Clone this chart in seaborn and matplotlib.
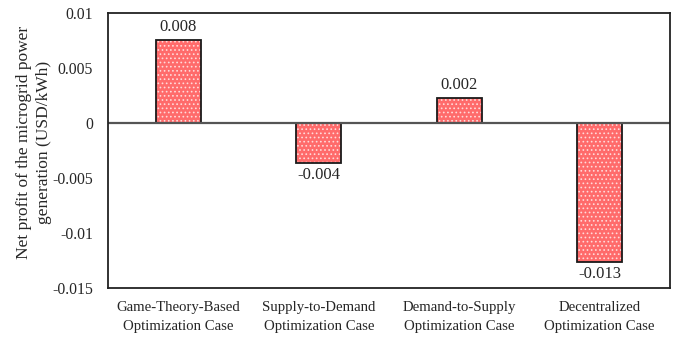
import matplotlib
matplotlib.use("Agg")
import matplotlib.pyplot as plt
import seaborn as sns
import pandas as pd

cases = [
    "Game-Theory-Based\nOptimization Case",
    "Supply-to-Demand\nOptimization Case",
    "Demand-to-Supply\nOptimization Case",
    "Decentralized\nOptimization Case",
]
net_profit = [0.0076, -0.0036, 0.0023, -0.0126]
y_ticks = [0.01, 0.005, 0, -0.005, -0.01, -0.015]
y_tick_labels = ["0.01", "0.005", "0", "-0.005", "-0.01", "-0.015"]

sns.set_style("white")
plt.rcParams["font.family"] = ["Liberation Serif", "DejaVu Serif"]
plt.rcParams["hatch.linewidth"] = 0.7

df = pd.DataFrame({"case": cases, "profit": net_profit})

fig = plt.figure(figsize=(6.76, 3.37), dpi=100)
ax = fig.add_axes([0.16, 0.145, 0.831, 0.816])

# Textured fill: red with light dot hatch
sns.barplot(data=df, x="case", y="profit", ax=ax, width=0.32,
            color="#ff6b6b", saturation=1, edgecolor="#ffdada",
            linewidth=0, hatch="....")
# Black outlines on top
sns.barplot(data=df, x="case", y="profit", ax=ax, width=0.32,
            fill=False, edgecolor="#1a1a1a", linewidth=1.3)

ax.axhline(0, color="#555555", linewidth=1.6, zorder=1)

for i, v in enumerate(net_profit):
    if v >= 0:
        ax.text(i, v + 0.0004, f"{v:.3f}", ha="center", va="bottom", fontsize=12)
    else:
        ax.text(i, v - 0.0004, f"{v:.3f}", ha="center", va="top", fontsize=12)

ax.set_ylim(-0.015, 0.01)
ax.set_xlim(-0.5, 3.5)
ax.set_yticks(y_ticks)
ax.set_yticklabels(y_tick_labels)
ax.tick_params(axis="y", length=0, labelsize=11.3, pad=11)
ax.tick_params(axis="x", length=0, labelsize=10.6, pad=9)
for lbl in ax.get_xticklabels():
    lbl.set_linespacing(1.6)
ax.set_xlabel("")
ax.set_ylabel("Net profit of the microgrid power\ngeneration (USD/kWh)",
              fontsize=12.5, linespacing=1.35)
ax.yaxis.set_label_coords(-0.1, 0.53)

for s in ax.spines.values():
    s.set_visible(True)
    s.set_color("#222222")
    s.set_linewidth(1.3)

fig.savefig("out.png", dpi=100)
